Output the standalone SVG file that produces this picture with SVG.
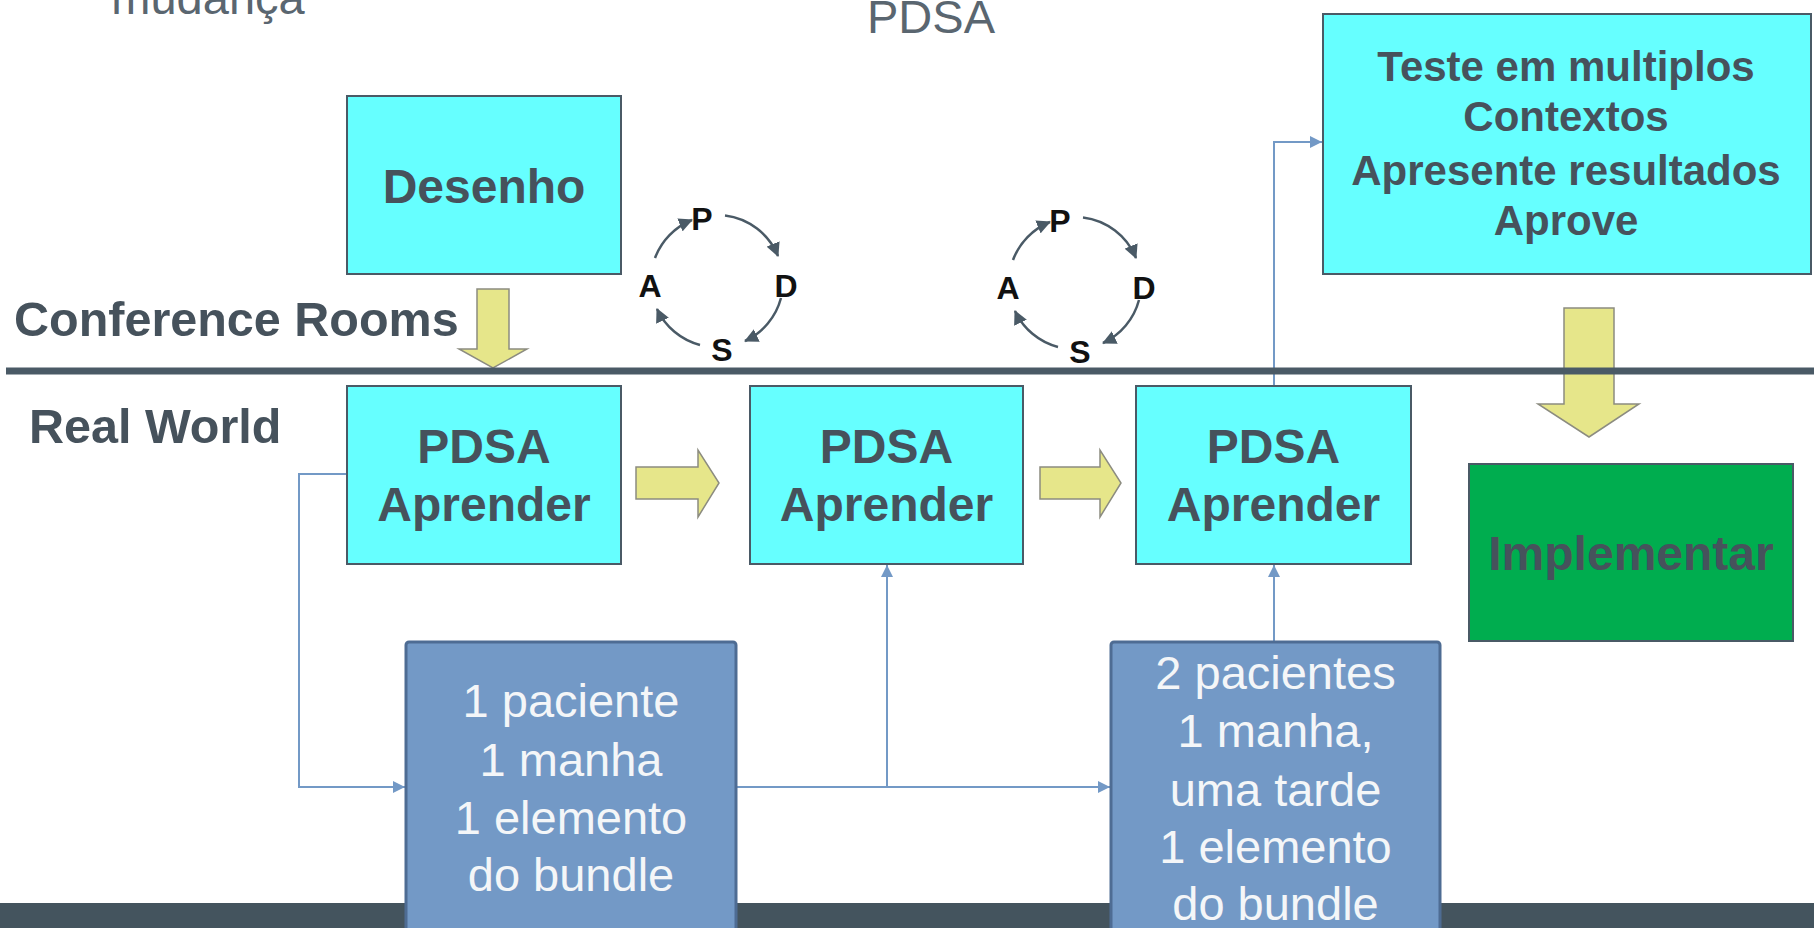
<svg xmlns="http://www.w3.org/2000/svg" width="1814" height="928" viewBox="0 0 1814 928">
<style>
text{font-family:"Liberation Sans",Arial,sans-serif}
.hd{font-size:47px;fill:#5a6670}
.lbl{font-size:48.5px;font-weight:bold;fill:#46525c}
.cy{fill:#66ffff;stroke:#4a5a66;stroke-width:2}
.bt{font-size:48px;font-weight:bold;fill:#46525c;text-anchor:middle}
.tt{font-size:42px;font-weight:bold;fill:#46525c;text-anchor:middle}
.bl{fill:#7399c6;stroke:#4e6c93;stroke-width:3}
.wt{font-size:47px;fill:#f4f6f8;text-anchor:middle}
.yl{fill:#e6e68a;stroke:#8c8c80;stroke-width:1.5}
.con{fill:none;stroke:#7399c6;stroke-width:2}
.arc{fill:none;stroke:#4a5a66;stroke-width:2.5}
.pl{font-size:32px;font-weight:bold;fill:#111;text-anchor:middle}
</style>
<defs>
<marker id="ab" markerUnits="userSpaceOnUse" markerWidth="14" markerHeight="12" refX="12" refY="6" orient="auto"><path d="M0,0 L12,6 L0,12 Z" fill="#7399c6"/></marker>
<marker id="ad" markerUnits="userSpaceOnUse" markerWidth="16" markerHeight="14" refX="13" refY="7" orient="auto"><path d="M0,0 L14,7 L0,14 Z" fill="#4a5a66"/></marker>
<g id="cyc">
<path class="arc" d="M725,215.5 A66 66 0 0 1 778,256" marker-end="url(#ad)"/>
<path class="arc" d="M781,298 A66 66 0 0 1 745,341" marker-end="url(#ad)"/>
<path class="arc" d="M700,345 A66 66 0 0 1 657,309" marker-end="url(#ad)"/>
<path class="arc" d="M655,258 A66 66 0 0 1 692,220" marker-end="url(#ad)"/>
<text class="pl" x="702" y="230">P</text>
<text class="pl" x="786" y="297">D</text>
<text class="pl" x="650" y="297">A</text>
<text class="pl" x="722" y="361">S</text>
</g>
</defs>
<rect width="1814" height="928" fill="#ffffff"/>

<g id="titles">
<text class="hd" x="208" y="14" text-anchor="middle">mudança</text>
<text class="hd" x="931" y="33" text-anchor="middle">PDSA</text>
</g>

<rect id="bottom-band" x="0" y="903" width="1814" height="25" fill="#44545e"/>

<g id="yellow-arrows">
<path class="yl" d="M477,289 H509 V349 H527 L493,368 L459,349 H477 Z"/>
<path class="yl" d="M1564,308 H1614 V404 H1639 L1589,437 L1538,404 H1564 Z"/>
<path class="yl" d="M636,467 H698 V450 L719,483 L698,517 V499 H636 Z"/>
<path class="yl" d="M1040,467 H1100 V450 L1121,483 L1100,517 V499 H1040 Z"/>
</g>

<g id="connectors">
<path class="con" d="M347,474 H299 V787 H405" marker-end="url(#ab)"/>
<path class="con" d="M736,787 H1110" marker-end="url(#ab)"/>
<path class="con" d="M887,787 V565" marker-end="url(#ab)"/>
<path class="con" d="M1274,642 V565" marker-end="url(#ab)"/>
<path class="con" d="M1274,386 V142 H1322" marker-end="url(#ab)"/>
</g>

<g id="lanes">
<text class="lbl" x="14" y="336">Conference Rooms</text>
<text class="lbl" x="29" y="443">Real World</text>
<line x1="6" y1="371" x2="1814" y2="371" stroke="#4a5a66" stroke-width="7"/>
</g>

<g id="desenho">
<rect class="cy" x="347" y="96" width="274" height="178"/>
<text class="bt" x="484" y="203">Desenho</text>
</g>

<g id="pdsa1">
<rect class="cy" x="347" y="386" width="274" height="178"/>
<text class="bt" x="484" y="463">PDSA</text>
<text class="bt" x="484" y="521">Aprender</text>
</g>
<g id="pdsa2">
<rect class="cy" x="750" y="386" width="273" height="178"/>
<text class="bt" x="886.5" y="463">PDSA</text>
<text class="bt" x="886.5" y="521">Aprender</text>
</g>
<g id="pdsa3">
<rect class="cy" x="1136" y="386" width="275" height="178"/>
<text class="bt" x="1273.5" y="463">PDSA</text>
<text class="bt" x="1273.5" y="521">Aprender</text>
</g>

<g id="teste">
<rect class="cy" x="1323" y="14" width="488" height="260"/>
<text class="tt" x="1566" y="81">Teste em multiplos</text>
<text class="tt" x="1566" y="131">Contextos</text>
<text class="tt" x="1566" y="185">Apresente resultados</text>
<text class="tt" x="1566" y="235">Aprove</text>
</g>

<g id="implementar">
<rect x="1469" y="464" width="324" height="177" fill="#00ad4f" stroke="#4a5a66" stroke-width="2"/>
<text class="bt" x="1631" y="570">Implementar</text>
</g>

<g id="ciclo1"><use href="#cyc"/></g>
<g id="ciclo2"><use href="#cyc" transform="translate(358,2)"/></g>

<g id="teste1">
<rect class="bl" x="406" y="642" width="330" height="300" rx="3"/>
<text class="wt" x="571" y="717">1 paciente</text>
<text class="wt" x="571" y="776">1 manha</text>
<text class="wt" x="571" y="834">1 elemento</text>
<text class="wt" x="571" y="891">do bundle</text>
</g>

<g id="teste2">
<rect class="bl" x="1111" y="642" width="329" height="300" rx="3"/>
<text class="wt" x="1275.5" y="689">2 pacientes</text>
<text class="wt" x="1275.5" y="747">1 manha,</text>
<text class="wt" x="1275.5" y="806">uma tarde</text>
<text class="wt" x="1275.5" y="863">1 elemento</text>
<text class="wt" x="1275.5" y="920">do bundle</text>
</g>
</svg>
